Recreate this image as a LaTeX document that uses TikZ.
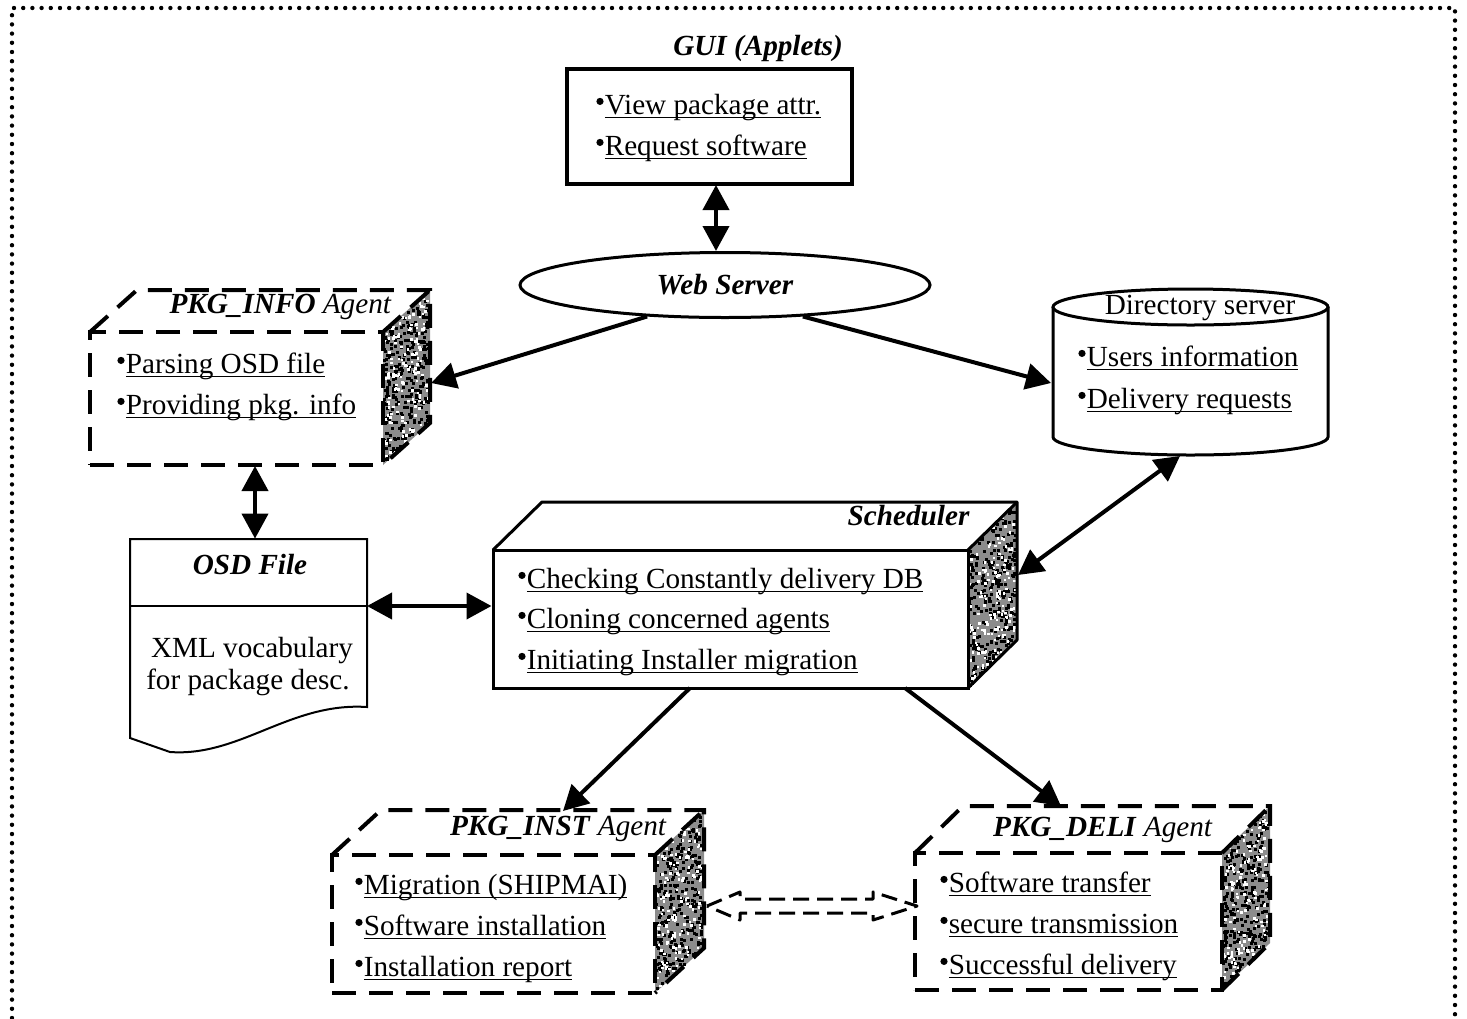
\documentclass[tikz,border=0pt]{standalone}
\usepackage{fontspec}
\setmainfont{Liberation Serif}
\usetikzlibrary{arrows.meta,fit,shapes.geometric,calc}

% raised round bullet and a fixed-depth underline for list items
\newcommand\bul{\raisebox{6.3pt}{\tikz[baseline=0pt]\fill (0,0) circle (1.8pt);}\kern0.6pt}
\newsavebox\ulbox
\newcommand\uln[1]{\sbox\ulbox{#1}\rlap{\rule[-2.2pt]{\wd\ulbox}{0.9pt}}\usebox\ulbox}
\newcommand\bi[1]{\textbf{\textit{#1}}}

% stippled side face of a 3-D box: x0 y0 (front top-right corner), depth, rise, height
\newcommand\sidegrain[5]{%
  \fill[black!45] (#1,#2) -- (#1+#3,#2-#4) -- (#1+#3,#2-#4+#5) -- (#1,#2+#5) -- cycle;
  \foreach \k in {1,...,280}{%
    \pgfmathsetmacro\ga{rnd}%
    \pgfmathsetmacro\gb{rnd}%
    \pgfmathsetmacro\gx{#1+\ga*(#3-3)}%
    \pgfmathsetmacro\gy{#2-\ga*#4+\gb*(#5-3)}%
    \fill[black] (\gx,\gy) rectangle ++(3,3);
  }%
  \foreach \k in {1,...,140}{%
    \pgfmathsetmacro\ga{rnd}%
    \pgfmathsetmacro\gb{rnd}%
    \pgfmathsetmacro\gx{#1+\ga*(#3-3)}%
    \pgfmathsetmacro\gy{#2-\ga*#4+\gb*(#5-3)}%
    \fill[white] (\gx,\gy) rectangle ++(2.5,2.5);
  }%
}

\tikzset{
  every node/.style={font=\fontsize{14.6}{18}\selectfont, inner sep=0pt},
  solidline/.style={line width=1.5pt},
  agentline/.style={line width=2pt, dash pattern=on 12pt off 6.5pt},
  conn/.style={line width=2pt, -{Triangle[length=12.5pt,width=13pt]}},
  biconn/.style={line width=2pt, {Triangle[length=12.5pt,width=13pt]}-{Triangle[length=12.5pt,width=13pt]}},
  item/.style={anchor=base west},
  ttl/.style={anchor=base},
  ttlright/.style={anchor=base east},
  frame/.style={line width=2.2pt, dash pattern=on 0pt off 4.6pt, line cap=round},
  hollowarrow/.style={line width=1.5pt, dash pattern=on 8pt off 4pt, line join=round},
}

\begin{document}
\begin{tikzpicture}[x=0.5pt,y=-0.5pt]
\pgfmathsetseed{42}
\useasboundingbox (0,0) rectangle (1467,1018);

% dotted outer frame
\draw[frame] (12,1018) -- (12,8) -- (1455,8) -- (1455,1018);

% ---------------- GUI (Applets) ----------------
\node[ttl] (guititle) at (758,55) {\bi{GUI (Applets)}};
\node[draw, line width=2pt, fill=white, fit={(567,69) (852,184)}] (gui) {};
\node[item] (gui1) at (596,114) {\bul\uln{View package attr.}};
\node[item] (gui2) at (596,155) {\bul\uln{Request software}};

% ---------------- Web Server ----------------
\node[draw, ellipse, solidline, fill=white, minimum width=205pt, minimum height=32.5pt] (web) at (725,285) {\bi{Web Server}};

% ---------------- Directory server ----------------
\node[fit={(1053,289) (1328,455)}] (dir) {};
\draw[solidline, fill=white] (1053,307) -- (1053,437)
  arc[start angle=180, end angle=360, x radius=68.75pt, y radius=9pt] -- (1328,307);
\draw[solidline, fill=white] (1190.5,307) ellipse [x radius=68.75pt, y radius=9pt];
\node[ttl] (dirtitle) at (1200,314) {Directory server};
\node[item] (dir1) at (1078,366) {\bul\uln{Users information}};
\node[item] (dir2) at (1078,408) {\bul\uln{Delivery requests}};

% ---------------- PKG_INFO Agent ----------------
\sidegrain{383}{332}{47}{42}{133}
\node[draw, agentline, fit={(90,332) (383,465)}] (info) {};
\draw[agentline] (90,332) -- (137,290) -- (430,290) -- (430,423) -- (383,465);
\draw[agentline] (383,332) -- (430,290);
\node[ttlright] (infotitle) at (392,313) {\bi{PKG\_INFO} \textit{Agent}};
\node[item] (info1) at (117,373) {\bul\uln{Parsing OSD file}};
\node[item] (info2) at (117,414) {\bul\uln{Providing pkg. info}};

% ---------------- OSD File ----------------
\node[fit={(130,539) (367,752)}] (osd) {};
\draw[line width=1pt, fill=white] (130,539) -- (367,539) -- (367,707)
  .. controls (290,702) and (240,757) .. (170,752) -- (130,738) -- cycle;
\draw[line width=1pt] (130,606) -- (367,606);
\node[ttl] (osdtitle) at (250,574) {\bi{OSD File}};
\node[ttl] (osd1) at (252,657) {XML vocabulary};
\node[ttl] (osd2) at (248,689) {for package desc.};

% ---------------- Scheduler ----------------
\sidegrain{968}{550}{49}{48}{138}
\node[draw, solidline, fit={(493,550) (968,688)}] (sched) {};
\draw[solidline, line join=round] (493,550) -- (542,502) -- (1017,502) -- (1017,640) -- (968,688);
\draw[solidline] (968,550) -- (1017,502);
\node[ttlright] (schedtitle) at (970,525) {\bi{Scheduler}};
\node[item] (sched1) at (518,588) {\bul\uln{Checking Constantly delivery DB}};
\node[item] (sched2) at (518,628) {\bul\uln{Cloning concerned agents}};
\node[item] (sched3) at (518,669) {\bul\uln{Initiating Installer migration}};

% ---------------- PKG_INST Agent ----------------
\sidegrain{655}{855}{49}{45}{138}
\node[draw, agentline, fit={(332,855) (655,993)}] (inst) {};
\draw[agentline] (332,855) -- (381,810) -- (704,810) -- (704,948) -- (655,993);
\draw[agentline] (655,855) -- (704,810);
\node[ttlright] (insttitle) at (667,835) {\bi{PKG\_INST} \textit{Agent}};
\node[item] (inst1) at (355,894) {\bul\uln{Migration (SHIPMAI)}};
\node[item] (inst2) at (355,935) {\bul\uln{Software installation}};
\node[item] (inst3) at (355,976) {\bul\uln{Installation report}};

% ---------------- PKG_DELI Agent ----------------
\sidegrain{1222}{853}{48}{47}{137}
\node[draw, agentline, fit={(915,853) (1222,990)}] (deli) {};
\draw[agentline] (915,853) -- (963,806) -- (1270,806) -- (1270,943) -- (1222,990);
\draw[agentline] (1222,853) -- (1270,806);
\node[ttlright] (delititle) at (1213,836) {\bi{PKG\_DELI} \textit{Agent}};
\node[item] (deli1) at (940,892) {\bul\uln{Software transfer}};
\node[item] (deli2) at (940,933) {\bul\uln{secure transmission}};
\node[item] (deli3) at (940,974) {\bul\uln{Successful delivery}};

% ---------------- connector ports ----------------
\coordinate (guiS)   at (716,185);
\coordinate (infoE)  at (431,383);
\coordinate (dirW)   at (1051,383);
\coordinate (infoS)  at (255,466);
\coordinate (osdE)   at (367,606);
\coordinate (dirS)   at (1180,456);
\coordinate (schedE) at (1018,575);
\coordinate (schedB1) at (690,688);
\coordinate (schedB2) at (905,688);
\coordinate (instT)  at (563,811);
\coordinate (deliT)  at (1061,806);
\coordinate (instE)  at (707,906);
\coordinate (deliW)  at (917,906);

% ---------------- connectors ----------------
\draw[biconn] (guiS) -- (guiS |- web.north);
\draw[conn] (web.202) -- (infoE);
\draw[conn] (web.338) -- (dirW);
\draw[biconn] (infoS) -- (infoS |- osd.north);
\draw[biconn] (osdE) -- (osdE -| sched.west);
\draw[biconn] (dirS) -- (schedE);
\draw[conn] (schedB1) -- (instT);
\draw[conn] (schedB2) -- (deliT);

% hollow dashed two-way arrow between the agents
\draw[hollowarrow] (instE) -- ($(instE)+(33,-14)$) -- ($(instE)+(33,-7)$)
  -- ($(deliW)+(-44,-7)$) -- ($(deliW)+(-44,-14)$) -- (deliW)
  -- ($(deliW)+(-44,14)$) -- ($(deliW)+(-44,7)$)
  -- ($(instE)+(33,7)$) -- ($(instE)+(33,14)$) -- cycle;

\end{tikzpicture}
\end{document}
